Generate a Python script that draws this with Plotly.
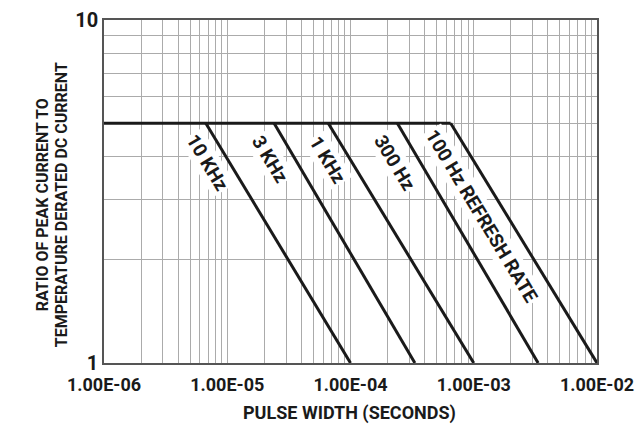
import math
import plotly.graph_objects as go

# ---- data ----
series_labels = ["10 KHz", "3 KHz", "1 KHz", "300 Hz", "100 Hz REFRESH RATE"]
knee_pulse_width = [6.7e-6, 2.4e-5, 6.6e-5, 2.4e-4, 6.5e-4]   # where derating starts (ratio = 5)
end_pulse_width = [1e-4, 3.33e-4, 1e-3, 3.33e-3, 1e-2]        # where ratio reaches 1
peak_ratio = 5
end_ratio = 1
plateau_start = 1e-6

x_tick_vals = [1e-6, 1e-5, 1e-4, 1e-3, 1e-2]
x_tick_text = ["1.00E-06", "1.00E-05", "1.00E-04", "1.00E-03", "1.00E-02"]
y_tick_vals = [1, 10]
y_tick_text = ["1", "10"]

x_title = "PULSE WIDTH (SECONDS)"
y_title_lines = ["RATIO OF PEAK CURRENT TO", "TEMPERATURE DERATED DC CURRENT"]

# label centres (data coords)
label_x = [6.86e-6, 2.22e-5, 6.45e-5, 2.26e-4, 1.17e-3]
label_y = [3.83, 3.91, 3.91, 3.83, 2.68]

FONT = "Roboto, sans-serif"
INK = "#1a1a1a"

fig = go.Figure()

# plateau line
fig.add_trace(go.Scatter(
    x=[plateau_start, knee_pulse_width[-1]], y=[peak_ratio, peak_ratio],
    mode="lines", line=dict(color=INK, width=3), showlegend=False, hoverinfo="skip"))

for k, e in zip(knee_pulse_width, end_pulse_width):
    fig.add_trace(go.Scatter(
        x=[k, e], y=[peak_ratio, end_ratio],
        mode="lines", line=dict(color=INK, width=3), showlegend=False, hoverinfo="skip"))


def decade_vals(lo_exp, hi_exp):
    vals = []
    for d in range(lo_exp, hi_exp):
        for m in range(1, 10):
            vals.append(m * 10 ** d)
    vals.append(10 ** hi_exp)
    return vals


def labels_for(grid, tvals, ttext):
    out = []
    for v in grid:
        lab = ""
        for t, s in zip(tvals, ttext):
            if abs(v - t) / t < 1e-9:
                lab = s
        out.append(lab)
    return out


xgrid = decade_vals(-6, -2)
xtext = labels_for(xgrid, x_tick_vals, x_tick_text)
ygrid = decade_vals(0, 1)
ytext = labels_for(ygrid, y_tick_vals, y_tick_text)

W, H = 638, 425
L, T = 104, 20
plot_w, plot_h = 493, 343
R = W - L - plot_w
B = H - T - plot_h

dx = (math.log10(end_pulse_width[0]) - math.log10(knee_pulse_width[0])) / 4 * plot_w
dy = (math.log10(peak_ratio) - math.log10(end_ratio)) / 1 * plot_h
angle = math.degrees(math.atan2(dy, dx))

for lab, lx, ly in zip(series_labels, label_x, label_y):
    fig.add_annotation(
        x=math.log10(lx), y=math.log10(ly), text=lab, showarrow=False,
        textangle=angle, bgcolor="white", borderpad=1,
        font=dict(family=FONT, size=19, color=INK, weight="bold"))

# y title as two annotations (tight line spacing)
for i, line in enumerate(y_title_lines):
    fig.add_annotation(
        xref="paper", yref="paper", x=(-62 + 19 * i) / plot_w, y=0.46,
        xanchor="center", yanchor="middle", text=line, showarrow=False,
        textangle=-90,
        font=dict(family=FONT, size=16, color=INK, weight="bold"))

fig.add_annotation(
    xref="paper", yref="paper", x=(349 - L) / plot_w, y=-50 / plot_h,
    xanchor="center", yanchor="middle", text=x_title, showarrow=False,
    font=dict(family=FONT, size=18, color=INK, weight="bold"))

fig.update_xaxes(
    type="log", range=[-6, -2], tickvals=xgrid, ticktext=xtext, ticks="",
    showgrid=True, gridcolor="#ababab", gridwidth=1, automargin=False,
    showline=True, linecolor="#555", linewidth=1.5, mirror=True,
    ticklabelstandoff=5, ticklabeloverflow="allow",
    tickfont=dict(family=FONT, size=18, color=INK, weight="bold"),
    zeroline=False)
fig.update_yaxes(
    type="log", range=[0, 1], tickvals=ygrid, ticktext=ytext, ticks="",
    showgrid=True, gridcolor="#ababab", gridwidth=1, automargin=False,
    showline=True, linecolor="#555", linewidth=1.5, mirror=True,
    ticklabelstandoff=0, ticklabeloverflow="allow",
    tickfont=dict(family=FONT, size=20, color=INK, weight="bold"),
    zeroline=False)

fig.update_layout(
    width=W, height=H,
    margin=dict(l=L, r=R, t=T, b=B, autoexpand=False),
    plot_bgcolor="white", paper_bgcolor="white",
    showlegend=False)

fig.write_html(
    "out.html",
    config={"displayModeBar": False},
    post_script="document.body.style.margin='0';document.body.style.overflow='hidden';")
